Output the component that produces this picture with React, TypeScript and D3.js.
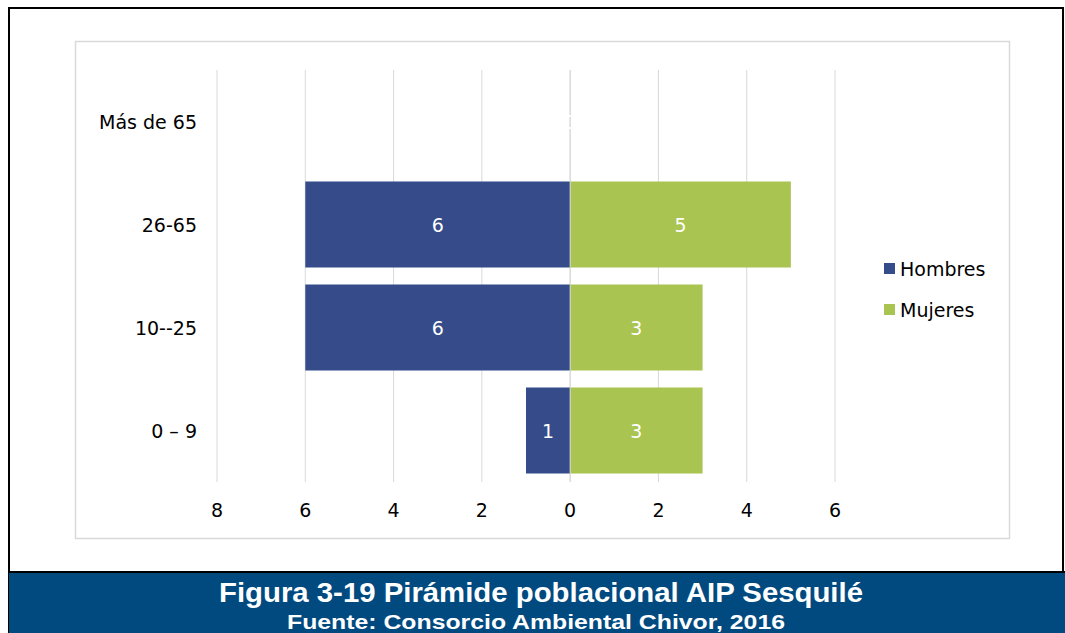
import React from "react";
import * as d3 from "d3";

const categories = ["Más de 65", "26-65", "10--25", "0 – 9"];
const hombres = [0, 6, 6, 1];
const mujeres = [0, 5, 3, 3];
const tickValues = [-8, -6, -4, -2, 0, 2, 4, 6];
const seriesNames = ["Hombres", "Mujeres"];
const title = "Figura 3-19 Pirámide poblacional AIP Sesquilé";
const subtitle = "Fuente: Consorcio Ambiental Chivor, 2016";

const BLUE = "#354b8a";
const GREEN = "#a9c450";
const FONT = "'DejaVu Sans', sans-serif";

export default function App() {
  const W = 1065, H = 633;
  const x = d3.scaleLinear().domain([-8, 6]).range([217, 835]);
  const y = d3.scaleBand().domain(categories).range([70, 482]).paddingInner(0.165).paddingOuter(0.0825);
  const bw = y.bandwidth();
  return (
    <svg width={W} height={H} style={{ position: "absolute", left: 0, top: 0, background: "#fff" }}>
      <rect x={9} y={8} width={1054} height={H} fill="none" stroke="#000" strokeWidth={2} />
      <rect x={75.5} y={41.5} width={934} height={497} fill="#fff" stroke="#d9d9d9" strokeWidth={1.5} />
      {tickValues.map((t) => (
        <line key={t} x1={x(t)} x2={x(t)} y1={70} y2={482} stroke="#d9d9d9" strokeWidth={1} />
      ))}
      {categories.map((c, i) => (
        <g key={c}>
          <rect x={x(-hombres[i])} y={y(c)} width={x(0) - x(-hombres[i])} height={bw} fill={BLUE} />
          <rect x={x(0)} y={y(c)} width={x(mujeres[i]) - x(0)} height={bw} fill={GREEN} />
        </g>
      ))}
      <line x1={x(0)} x2={x(0)} y1={70} y2={482} stroke="#d9d9d9" strokeWidth={1} />
      {categories.map((c, i) => (
        <g key={"l" + c} fontFamily={FONT} fontSize={19} fill="#fff" textAnchor="middle">
          <text x={(x(-hombres[i]) + x(0)) / 2} y={y(c)! + bw / 2 + 7}>{hombres[i]}</text>
          <text x={(x(mujeres[i]) + x(0)) / 2} y={y(c)! + bw / 2 + 7}>{mujeres[i]}</text>
        </g>
      ))}
      {categories.map((c) => (
        <text key={"c" + c} x={197} y={y(c)! + bw / 2 + 7} textAnchor="end" fontFamily={FONT} fontSize={19} fill="#000">
          {c}
        </text>
      ))}
      {tickValues.map((t) => (
        <text key={"t" + t} x={x(t)} y={517} textAnchor="middle" fontFamily={FONT} fontSize={19} fill="#000">
          {Math.abs(t)}
        </text>
      ))}
      {seriesNames.map((s, i) => (
        <g key={s}>
          <rect x={884} y={263 + i * 41} width={11} height={11} fill={i === 0 ? BLUE : GREEN} />
          <text x={900} y={276 + i * 41} fontFamily={FONT} fontSize={19} fill="#000">{s}</text>
        </g>
      ))}
      <rect x={9} y={573} width={1056} height={60} fill="#004a80" />
      <line x1={9} x2={1065} y1={572} y2={572} stroke="#000" strokeWidth={2} />
      <text x={541} y={602} textAnchor="middle" fontFamily="'Liberation Sans', Arial, sans-serif" fontWeight="bold" fontSize={28} textLength={644} lengthAdjust="spacingAndGlyphs" fill="#fff">
        {title}
      </text>
      <text x={536} y={629} textAnchor="middle" fontFamily="'Liberation Sans', Arial, sans-serif" fontWeight="bold" fontSize={21} textLength={498} lengthAdjust="spacingAndGlyphs" fill="#fff">
        {subtitle}
      </text>
    </svg>
  );
}
